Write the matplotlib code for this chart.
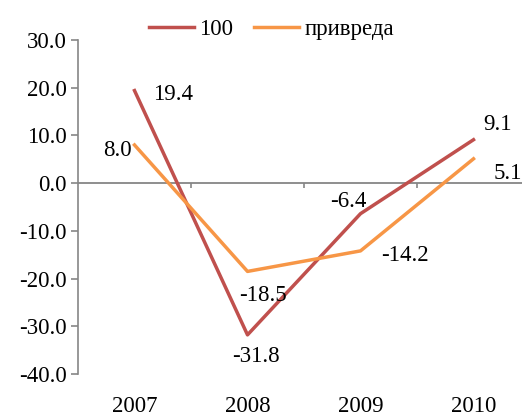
import matplotlib.pyplot as plt

plt.rcParams['font.family'] = ['Liberation Serif', 'DejaVu Serif']

years = ['2007', '2008', '2009', '2010']
series_100 = [19.4, -31.8, -6.4, 9.1]
series_privreda = [8.0, -18.5, -14.2, 5.1]

fig = plt.figure(figsize=(5.22, 4.17), dpi=100)
ax = fig.add_axes([78 / 522, 1 - 374 / 417, 452 / 522, 334 / 417])

x = range(len(years))
ax.plot(x, series_100, color='#C0504D', lw=2.5, label='100')
ax.plot(x, series_privreda, color='#F79646', lw=2.5, label='привреда')

fs = 16.5
ax.set_xlim(-0.5, 3.5)
ax.set_ylim(-40, 30)
ax.set_yticks(range(-40, 31, 10))
ax.set_yticklabels([f'{v:.1f}' for v in range(-40, 31, 10)], fontsize=fs)
ax.set_xticks(list(x))
ax.set_xticklabels(years, fontsize=fs)
ax.tick_params(axis='x', length=0, pad=16)
ax.tick_params(axis='y', color='#868686', length=5, width=1.2, pad=3)
for s in ['top', 'right', 'bottom']:
    ax.spines[s].set_visible(False)
ax.spines['left'].set_color('#868686')
ax.spines['left'].set_linewidth(1.2)

# zero line with category separators
ax.axhline(0, color='#868686', lw=1.3, zorder=0)
ax.vlines([i + 0.5 for i in range(len(years) - 1)], -1.1, 0, color='#868686', lw=1.2, zorder=0)

# data label offsets in pixels
offs_100 = [(38.5, -3.5), (8.5, -22), (-12.5, 12.5), (24.5, 15.5)]
offs_priv = [(-17.5, -6), (15.5, -24), (44.5, -5), (34.5, -15)]
for i, v in enumerate(series_100):
    ax.annotate(f'{v:.1f}', (i, v), xytext=offs_100[i], textcoords='offset pixels',
                ha='center', va='center', fontsize=fs, annotation_clip=False)
for i, v in enumerate(series_privreda):
    ax.annotate(f'{v:.1f}', (i, v), xytext=offs_priv[i], textcoords='offset pixels',
                ha='center', va='center', fontsize=fs, annotation_clip=False)

fig.legend(loc='upper center', bbox_to_anchor=(0.52, 1.005), ncol=2, frameon=False,
           fontsize=fs, handlelength=1.95, columnspacing=0.9, handletextpad=0.25)

fig.savefig('out.png', dpi=100)
